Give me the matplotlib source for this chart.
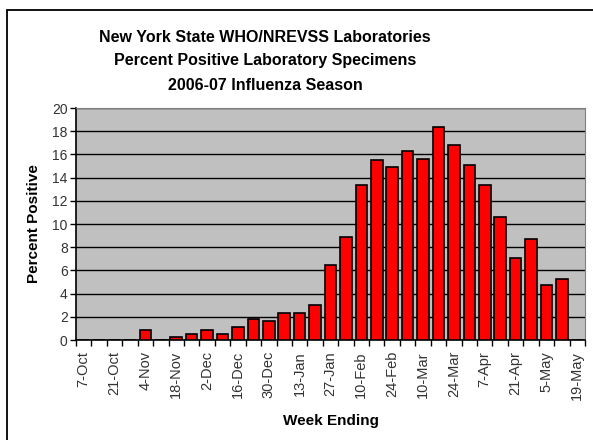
import matplotlib
matplotlib.use('Agg')
import matplotlib.pyplot as plt
from matplotlib.patches import Rectangle
import numpy as np

plt.rcParams['font.family'] = ['Liberation Sans', 'DejaVu Sans']

# week ending dates, one bar each
weeks = ['7-Oct', '14-Oct', '21-Oct', '28-Oct', '4-Nov', '11-Nov', '18-Nov', '25-Nov',
         '2-Dec', '9-Dec', '16-Dec', '23-Dec', '30-Dec', '6-Jan', '13-Jan', '20-Jan',
         '27-Jan', '3-Feb', '10-Feb', '17-Feb', '24-Feb', '3-Mar', '10-Mar', '17-Mar',
         '24-Mar', '31-Mar', '7-Apr', '14-Apr', '21-Apr', '28-Apr', '5-May', '12-May',
         '19-May']
pct_positive = [0, 0, 0, 0, 0.9, 0, 0.25, 0.5,
                0.9, 0.5, 1.15, 1.8, 1.6, 2.3, 2.3, 3.0,
                6.5, 8.85, 13.4, 15.5, 14.95, 16.3, 15.6, 18.4,
                16.8, 15.1, 13.4, 10.6, 7.1, 8.75, 4.75, 5.25,
                0]
title_lines = ['New York State WHO/NREVSS Laboratories',
               'Percent Positive Laboratory Specimens',
               '2006-07 Influenza Season']

fig = plt.figure(figsize=(5.93, 4.4), dpi=100)
fig.patch.set_facecolor('white')

# outer frame of the chart area (cropped on the right and bottom)
fig.add_artist(Rectangle((7 / 593, -10 / 440), 620 / 593, 440 / 440,
                         transform=fig.transFigure, fill=False,
                         edgecolor='black', linewidth=1.3))

ax = fig.add_axes([76 / 593, 1 - 340 / 440, 509 / 593, 232 / 440])
ax.set_facecolor('#C0C0C0')

x = np.arange(len(weeks))
ax.bar(x, pct_positive, width=0.75, color='#FF0000', edgecolor='black',
       linewidth=1.2, zorder=3)

ax.set_xlim(-0.5, len(weeks) - 0.5)
ax.set_ylim(0, 20)
ax.set_yticks(range(0, 21, 2))
ax.yaxis.grid(True, color='black', linewidth=1.0, zorder=0)
ax.set_axisbelow(True)

# category boundary ticks, labels every other week
ax.set_xticks(np.arange(-0.5, len(weeks), 1.0))
ax.set_xticklabels([])
ax.set_xticks(x[::2], minor=True)
ax.set_xticklabels(weeks[::2], minor=True, rotation=90, fontsize=10.5)
ax.tick_params(axis='x', which='major', length=4, width=1, direction='out')
ax.tick_params(axis='x', which='minor', length=0, pad=8)
ax.tick_params(axis='y', length=4, width=1, labelsize=10, pad=2, colors='black')
for lbl in ax.get_yticklabels():
    lbl.set_color('#333333')
for lbl in ax.get_xticklabels(minor=True):
    lbl.set_color('#333333')

for side in ['top', 'right']:
    ax.spines[side].set_color('#808080')
for side in ['left', 'bottom']:
    ax.spines[side].set_color('black')
    ax.spines[side].set_linewidth(1.2)

ax.set_ylabel('Percent Positive', fontsize=11, fontweight='bold', labelpad=8)
ax.set_xlabel('Week Ending', fontsize=11, fontweight='bold', labelpad=10)

for i, line in enumerate(title_lines):
    fig.text(265 / 593, 1 - (37 + 24 * i) / 440, line,
             ha='center', va='center', fontsize=11.5, fontweight='bold')

fig.savefig('out.png', dpi=100)
